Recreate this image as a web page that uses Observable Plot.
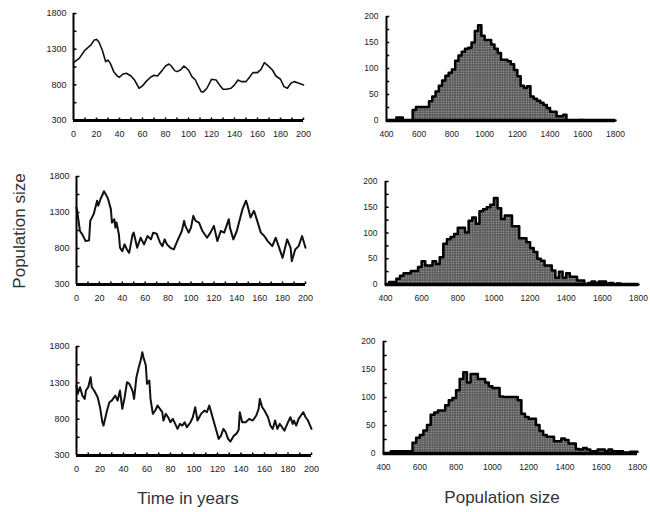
<!DOCTYPE html>
<html><head><meta charset="utf-8">
<script src="https://cdn.jsdelivr.net/npm/d3@7"></script>
<script src="https://cdn.jsdelivr.net/npm/@observablehq/plot@0.6"></script>
<style>
body{margin:0;background:#fff;}
#root{position:relative;width:650px;height:512px;overflow:hidden;background:#fff;font-family:"Liberation Sans",Arial,sans-serif;}
.panel{position:absolute;}
.lab{position:absolute;color:#333;font-size:17px;white-space:nowrap;transform:translate(-50%,-50%);}
</style></head><body><div id="root"></div>
<script>
// ---------- data ----------
const timeTicks = [0,20,40,60,80,100,120,140,160,180,200];
const timeMinor = [10,20,30,40,50,60,70,80,90,100,110,120,130,140,150,160,170,180,190,200];
const popTicks = [300,800,1300,1800];
const popMinor = [550,800,1050,1300,1550,1800];
const histXTicks = [400,600,800,1000,1200,1400,1600,1800];
const histYTicks = [0,50,100,150,200];
const histYMinor = [25,50,75,100,125,150,175,200];

const years1 = [0,5,10,15,18,20,22,25,28,30,32,35,38,40,43,46,50,53,57,60,63,67,70,73,77,80,83,85,88,90,93,96,100,103,106,108,111,113,116,120,124,127,130,133,137,140,143,146,150,153,156,160,163,166,170,173,176,180,183,186,189,192,196,200];
const pop1 = [1111,1171,1288,1357,1427,1437,1404,1288,1125,1148,1101,985,924,906,952,962,924,868,752,785,845,906,934,924,999,1064,1092,1064,999,985,1008,1064,1008,915,868,799,705,701,752,878,868,799,738,738,752,799,868,845,845,906,971,971,1017,1111,1055,1008,924,878,775,752,822,845,822,799];

const years2 = [0,1,3,5,8,11,12,15,18,19,21,23,24,27,28,30,31,33,34,35,37,38,40,42,44,46,49,50,53,56,59,62,65,67,70,73,75,77,79,82,85,88,90,92,94,95,98,100,102,104,107,110,114,117,120,123,126,129,133,134,137,140,145,148,149,152,155,156,161,164,167,171,174,178,180,184,187,188,191,194,197,200];
const pop2 = [1370,1277,1043,997,903,913,1184,1277,1464,1394,1487,1557,1595,1510,1464,1347,1160,1207,1090,1160,997,810,763,857,787,740,997,1020,810,950,857,973,927,1020,1006,880,833,927,857,810,787,903,973,1043,1184,1114,1020,1090,1254,1184,1160,1043,950,1020,1114,903,1043,1020,1207,1090,927,1043,1347,1464,1417,1230,1324,1277,1020,973,903,833,950,763,670,927,810,623,787,833,973,810];

const years3 = [0,1,3,5,7,8,10,12,13,15,18,20,22,23,26,28,30,33,35,37,39,41,43,45,47,48,49,51,53,55,56,57,59,60,62,63,65,67,69,71,73,74,76,78,80,82,84,86,88,90,92,94,97,99,101,103,106,109,111,113,115,117,119,121,123,125,127,129,131,134,136,138,139,141,144,147,150,153,155,156,158,160,163,165,167,169,171,173,175,177,180,182,184,185,187,189,191,193,195,197,200];
const pop3 = [1263,1148,1240,1125,1079,1194,1240,1378,1240,1194,1102,965,758,712,919,1033,1056,1125,1056,1194,942,1102,1309,1286,1217,1171,1079,1378,1515,1630,1722,1653,1538,1286,1332,1079,873,919,988,942,896,781,873,827,758,804,735,666,735,712,758,689,758,827,965,781,873,919,896,988,873,758,643,529,574,666,620,529,492,574,597,652,896,758,758,804,781,850,942,1079,965,919,827,712,666,781,666,735,689,643,758,827,735,781,712,804,850,896,827,781,666];

const binStarts = [400,420,440,460,480,500,520,540,560,580,600,620,640,660,680,700,720,740,760,780,800,820,840,860,880,900,920,940,960,980,1000,1020,1040,1060,1080,1100,1120,1140,1160,1180,1200,1220,1240,1260,1280,1300,1320,1340,1360,1380,1400,1420,1440,1460,1480,1500,1520,1540,1560,1580,1600,1620,1640,1660,1680,1700,1720,1740,1760,1780];
const binEnd = 1800;
const count1 = [0,0,0,6,6,0,0,0,20,26, 26,26,26,37,46,56,67,77,86,92, 98,115,125,132,138,140,150,172,183,163, 155,155,146,138,130,117,117,114,108,97, 85,67,63,66,46,42,38,34,30,24, 17,17,8,8,11,0,0,0,0,1, 0,0,0,0,0,0,0,0,0,0];
const count2 = [0,5,5,11,17,22,22,26,26,34, 45,37,37,45,40,53,79,88,92,98, 110,110,101,124,130,118,142,146,150,155, 168,148,127,134,134,113,113,90,90,82, 71,63,50,46,37,37,27,13,25,13, 22,15,15,8,8,0,3,6,3,6, 6,2,3,0,2,0,0,0,0,0];
const count3 = [0,0,4,4,4,4,4,4,19,28, 33,41,51,69,73,77,77,86,95,99, 113,133,145,127,142,142,133,133,127,120, 117,117,102,101,101,101,101,95,71,65, 62,62,51,40,33,30,30,22,22,27, 24,18,18,8,7,10,7,4,4,7, 7,4,7,4,4,4,2,2,3,3];

// ---------- drawing ----------
const root = document.getElementById("root");
const FONT = "'Liberation Sans Narrow','Liberation Sans',Arial,sans-serif";
const fmt = d => String(d);

function place(svg, left, top) {
  svg.classList.add("panel");
  svg.style.left = left + "px";
  svg.style.top = top + "px";
  root.appendChild(svg);
}

function timePanel(box, years, values, sw) {
  const [left, top, w, h, x0, x1, yT, yB] = box;
  const data = years.map((t, i) => ({t, v: values[i]}));
  const chart = Plot.plot({
    width: w, height: h,
    marginLeft: x0 - left, marginRight: left + w - x1,
    marginTop: yT - top, marginBottom: top + h - yB,
    style: {background: "transparent", overflow: "visible", fontFamily: FONT, fontSize: "9px", color: "#222"},
    x: {domain: [0, 200], label: null},
    y: {domain: [300, 1800], label: null},
    marks: [
      Plot.axisX(timeTicks, {tickSize: 0, tickPadding: 10, label: null, tickFormat: fmt}),
      Plot.axisY(popTicks, {tickSize: 0, tickPadding: 7, label: null, tickFormat: fmt}),
      Plot.ruleX(timeMinor, {x: d => d, y1: 300, y2: 335, stroke: "#000", strokeWidth: 1.5}),
      Plot.ruleY(popMinor, {y: d => d, x1: 0, x2: 3, stroke: "#000", strokeWidth: 1.5}),
      Plot.line(data, {x: "t", y: "v", stroke: "#111", strokeWidth: sw, strokeLinejoin: "round"}),
      Plot.ruleX([0], {y1: 300, y2: 1800, stroke: "#000", strokeWidth: 2}),
      Plot.ruleY([300], {x1: 0, x2: 200, stroke: "#000", strokeWidth: 3})
    ]
  });
  place(chart, left, top);
}

let pid = 0;
function histPanel(box, counts) {
  const [left, top, w, h, x0, x1, yT, yB] = box;
  const id = "dots" + (pid++);
  const data = binStarts.map((b, i) => ({x: b, c: counts[i]}));
  data.push({x: binEnd, c: counts[counts.length - 1]});
  const chart = Plot.plot({
    width: w, height: h,
    marginLeft: x0 - left, marginRight: left + w - x1,
    marginTop: yT - top, marginBottom: top + h - yB,
    style: {background: "transparent", overflow: "visible", fontFamily: FONT, fontSize: "8.5px", color: "#222"},
    x: {domain: [400, 1800], label: null},
    y: {domain: [0, 200], label: null},
    marks: [
      Plot.axisX(histXTicks, {tickSize: 0, tickPadding: 10, label: null, tickFormat: fmt}),
      Plot.axisY(histYTicks, {tickSize: 0, tickPadding: 8, label: null, tickFormat: fmt}),
      Plot.areaY(data, {x: "x", y: "c", curve: "step-after", fill: `url(#${id})`}),
      Plot.lineY(data, {x: "x", y: "c", curve: "step-after", stroke: "#000", strokeWidth: 2.5}),
      Plot.ruleY(histYMinor, {y: d => d, x1: 400, x2: 420, stroke: "#000", strokeWidth: 1.5}),
      Plot.ruleX([400], {y1: 0, y2: 200, stroke: "#000", strokeWidth: 2}),
      Plot.ruleY([0], {x1: 400, x2: 1800, stroke: "#000", strokeWidth: 3.5})
    ]
  });
  const ns = "http://www.w3.org/2000/svg";
  const defs = document.createElementNS(ns, "defs");
  defs.innerHTML = `<pattern id="${id}" width="2.5" height="2.5" patternUnits="userSpaceOnUse"><rect width="2.5" height="2.5" fill="#5a5a5a"/><circle cx="1.25" cy="1.25" r="0.65" fill="#b8b8b8"/></pattern>`;
  chart.insertBefore(defs, chart.firstChild);
  place(chart, left, top);
}

// boxes: [left, top, width, height, xStartPx, xEndPx, yTopPx, yBottomPx]
timePanel([0, 0, 330, 150, 73, 303, 13, 120], years1, pop1, 1.6);
timePanel([0, 150, 330, 160, 76, 305, 176, 284], years2, pop2, 2);
timePanel([0, 320, 330, 160, 76, 311, 346, 455], years3, pop3, 2);
histPanel([330, 0, 320, 150, 386, 615, 16, 120], count1);
histPanel([330, 150, 320, 160, 385, 638, 181, 284], count2);
histPanel([330, 320, 320, 160, 383, 637, 341, 453], count3);

function label(text, x, y, rot) {
  const d = document.createElement("div");
  d.className = "lab";
  d.textContent = text;
  d.style.left = x + "px";
  d.style.top = y + "px";
  if (rot) d.style.transform = "translate(-50%,-50%) rotate(-90deg)";
  root.appendChild(d);
}
label("Population size", 20, 231, true);
label("Time in years", 188, 499);
label("Population size", 502, 498);
</script></body></html>
